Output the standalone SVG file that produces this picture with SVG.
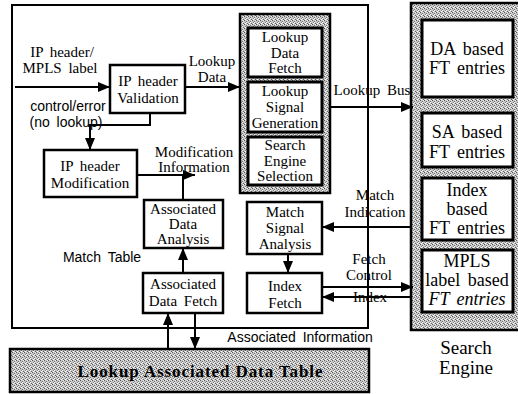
<svg xmlns="http://www.w3.org/2000/svg" width="518" height="394" viewBox="0 0 518 394">
<defs>
<pattern id="dither" width="4" height="4" patternUnits="userSpaceOnUse">
<rect width="4" height="4" fill="#c8c8c8"/>
<rect x="0" y="0" width="1" height="1" fill="#555"/>
<rect x="2" y="1" width="1" height="1" fill="#707070"/>
<rect x="1" y="2" width="1" height="1" fill="#808080"/>
<rect x="3" y="3" width="1" height="1" fill="#606060"/>
<rect x="3" y="0" width="1" height="1" fill="#eee"/>
<rect x="1" y="3" width="1" height="1" fill="#fff"/>
<rect x="2" y="2" width="1" height="1" fill="#f4f4f4"/>
</pattern>
<marker id="ah" viewBox="0 0 12 10" refX="12" refY="5" markerWidth="12" markerHeight="10" markerUnits="userSpaceOnUse" orient="auto">
<path d="M0,0 L12,5 L0,10 z" fill="#000"/>
</marker>
</defs>
<style>
.box{fill:#fff;stroke:#000;stroke-width:2.5}
.tbox{fill:#fff;stroke:#000;stroke-width:3}
.gray{fill:url(#dither);stroke:#000;stroke-width:2.5}
.ln{fill:none;stroke:#000;stroke-width:2}
.arr{fill:none;stroke:#000;stroke-width:2;marker-end:url(#ah)}
text{font-family:"Liberation Serif","Times New Roman",serif;font-size:15px;fill:#000;text-anchor:middle}
.s{font-family:"Liberation Sans",Arial,sans-serif;font-size:14px}
.se{font-size:18px}
.w{word-spacing:3px}
</style>

<g id="match-table">
<rect x="12" y="5" width="356" height="323" fill="none" stroke="#000" stroke-width="2"/>
<text class="s w" x="102" y="262">Match Table</text>
</g>

<g id="search-engine">
<rect x="411" y="3" width="110" height="327" class="gray"/>
<text class="se" x="466" y="354" style="font-size:19px">Search</text>
<text class="se" x="466" y="374" style="font-size:19px">Engine</text>
</g>

<g id="da-ft">
<rect x="422" y="20" width="91" height="77" class="tbox"/>
<text class="se w" x="467" y="55">DA based</text>
<text class="se w" x="467" y="74">FT entries</text>
</g>
<g id="sa-ft">
<rect x="422" y="113" width="91" height="54" class="tbox"/>
<text class="se w" x="467" y="138">SA based</text>
<text class="se w" x="467" y="158">FT entries</text>
</g>
<g id="index-ft">
<rect x="422" y="178" width="91" height="62" class="tbox"/>
<text class="se" x="467" y="196">Index</text>
<text class="se" x="467" y="215">based</text>
<text class="se w" x="467" y="234">FT entries</text>
</g>
<g id="mpls-ft">
<rect x="422" y="250" width="91" height="62" class="tbox"/>
<text class="se" x="467" y="267">MPLS</text>
<text class="se w" x="467" y="286">label based</text>
<text class="se w" x="467" y="305" font-style="italic">FT entries</text>
</g>

<g id="lookup-unit">
<rect x="240" y="14" width="90" height="179" class="gray"/>
</g>
<g id="lookup-data-fetch">
<rect x="248" y="28" width="74" height="49" class="tbox"/>
<text x="285" y="42">Lookup</text>
<text x="285" y="58">Data</text>
<text x="285" y="73">Fetch</text>
</g>
<g id="lookup-signal-generation">
<rect x="248" y="82" width="74" height="50" class="tbox"/>
<text x="285" y="96">Lookup</text>
<text x="285" y="112">Signal</text>
<text x="285" y="128">Generation</text>
</g>
<g id="search-engine-selection">
<rect x="248" y="137" width="74" height="48" class="tbox"/>
<text x="285" y="150">Search</text>
<text x="285" y="166">Engine</text>
<text x="285" y="181">Selection</text>
</g>

<g id="ip-header-validation">
<rect x="110" y="65" width="75" height="48" class="box"/>
<text class="w" x="148" y="86">IP header</text>
<text x="148" y="103">Validation</text>
</g>
<g id="ip-header-modification">
<rect x="44" y="150" width="93" height="47" class="box"/>
<text class="w" x="90" y="171">IP header</text>
<text x="90" y="188">Modification</text>
</g>
<g id="associated-data-analysis">
<rect x="144" y="200" width="79" height="48" class="box"/>
<text x="183" y="214">Associated</text>
<text x="183" y="229">Data</text>
<text x="183" y="244">Analysis</text>
</g>
<g id="associated-data-fetch">
<rect x="143" y="273" width="80" height="40" class="box"/>
<text x="183" y="289">Associated</text>
<text class="w" x="183" y="306">Data Fetch</text>
</g>
<g id="match-signal-analysis">
<rect x="247" y="202" width="75" height="52" class="box"/>
<text x="285" y="217">Match</text>
<text x="285" y="233">Signal</text>
<text x="285" y="249">Analysis</text>
</g>
<g id="index-fetch">
<rect x="247" y="273" width="75" height="40" class="box"/>
<text x="285" y="291">Index</text>
<text x="285" y="308">Fetch</text>
</g>
<g id="lookup-associated-data-table">
<rect x="10" y="349" width="359" height="43" class="gray"/>
<text x="200" y="377" font-weight="bold" style="font-size:17px" textLength="245" lengthAdjust="spacing">Lookup Associated Data Table</text>
</g>

<g id="connectors">
<line class="arr" x1="15" y1="87" x2="110" y2="87"/>
<line class="arr" x1="185" y1="87" x2="240" y2="87"/>
<polyline class="arr" points="150,113 150,125 90,125 90,150"/>
<line class="arr" x1="137" y1="175" x2="195" y2="175"/>
<line class="ln" x1="183" y1="175" x2="183" y2="200"/>
<line class="arr" x1="183" y1="273" x2="183" y2="248"/>
<line class="arr" x1="168" y1="349" x2="168" y2="313"/>
<line class="arr" x1="195" y1="313" x2="195" y2="349"/>
<line class="arr" x1="330" y1="107" x2="413" y2="107"/>
<line class="arr" x1="411" y1="227" x2="322" y2="227"/>
<line class="arr" x1="288" y1="254" x2="288" y2="273"/>
<line class="arr" x1="322" y1="287" x2="413" y2="287"/>
<line class="arr" x1="411" y1="297" x2="322" y2="297"/>
</g>

<g id="labels">
<text class="w" x="62" y="57">IP header/</text>
<text class="w" x="60" y="73">MPLS label</text>
<text x="212" y="66">Lookup</text>
<text x="212" y="82">Data</text>
<text class="s" x="68" y="111">control/error</text>
<text class="s w" x="66" y="127">(no lookup)</text>
<text x="194" y="157">Modification</text>
<text x="194" y="172">Information</text>
<text class="w" x="372" y="95">Lookup Bus</text>
<text x="375" y="200">Match</text>
<text x="375" y="217">Indication</text>
<text x="369" y="264">Fetch</text>
<text x="369" y="280">Control</text>
<text x="370" y="302">Index</text>
<text class="s w" x="300" y="342">Associated Information</text>
</g>
</svg>
